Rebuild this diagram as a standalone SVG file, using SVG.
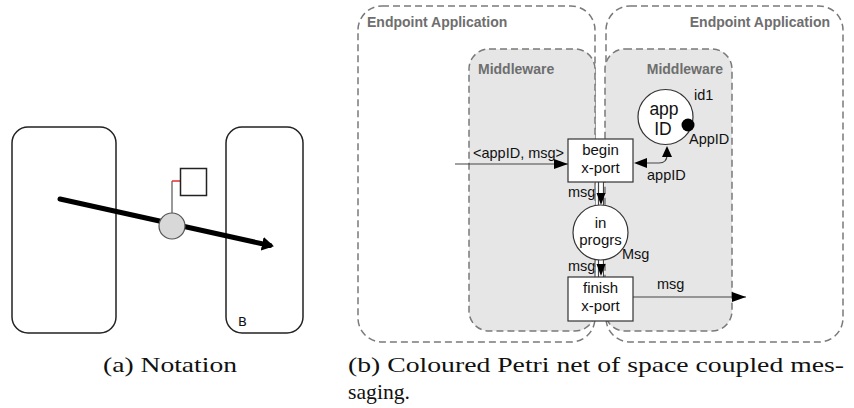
<svg xmlns="http://www.w3.org/2000/svg" width="854" height="408" viewBox="0 0 854 408">
  <style>
    .bnd { fill: none; stroke: #7a7a7a; stroke-width: 1.5; stroke-dasharray: 7 4; }
    .mw { fill: #e6e6e6; stroke: #7a7a7a; stroke-width: 1.5; stroke-dasharray: 7 4; }
    .lbl { font-family: "Liberation Sans", Arial, sans-serif; font-weight: bold; font-size: 14px; fill: #6e6e6e; }
    .t { font-family: "Liberation Sans", Arial, sans-serif; font-size: 15px; fill: #111; }
    .big { font-size: 17.5px; }
    .s { font-family: "Liberation Sans", Arial, sans-serif; font-size: 14.5px; fill: #111; }
    .node { fill: #fff; stroke: #333; stroke-width: 1.2; }
    .arc { fill: none; stroke: #444; stroke-width: 1.2; }
    .cap { font-family: "Liberation Serif", "Times New Roman", serif; font-size: 21px; fill: #111; }
    .zone { fill: #fff; stroke: #222; stroke-width: 1.5; }
  </style>
  <defs>
    <marker id="arr" viewBox="0 0 14 10" refX="14" refY="5" markerWidth="14" markerHeight="10" markerUnits="userSpaceOnUse" orient="auto">
      <path d="M0,0 L14,5 L0,10 z" fill="#000"/>
    </marker>
    <marker id="thick" viewBox="0 0 12 14" refX="8" refY="7" markerWidth="12" markerHeight="14" markerUnits="userSpaceOnUse" orient="auto">
      <path d="M0,0 L12,7 L0,14 z" fill="#000"/>
    </marker>
  </defs>

  <!-- (a) notation -->
  <g id="notation">
    <rect class="zone" x="12" y="127" width="104" height="206" rx="16"/>
    <rect class="zone" x="226" y="127" width="77" height="206" rx="16"/>
    <text x="238" y="326" font-family="'DejaVu Sans', sans-serif" font-size="13" fill="#111">B</text>
    <line x1="60" y1="199" x2="270" y2="245.5" stroke="#000" stroke-width="5" stroke-linecap="round" marker-end="url(#thick)"/>
    <polyline points="172,213 172,181" fill="none" stroke="#555" stroke-width="1.2"/>
    <line x1="172" y1="181" x2="180" y2="181" stroke="#e03030" stroke-width="1.5"/>
    <rect x="180.5" y="168.5" width="26" height="27" fill="#fff" stroke="#222" stroke-width="1.5"/>
    <circle cx="172" cy="226" r="13" fill="#d8d8d8" stroke="#555" stroke-width="1.2"/>
  </g>

  <!-- (b) coloured Petri net -->
  <g id="endpoint-left">
    <rect class="bnd" x="358" y="6" width="237" height="336" rx="24"/>
    <text class="lbl" x="367" y="27">Endpoint Application</text>
  </g>
  <g id="endpoint-right">
    <rect class="bnd" x="606" y="6" width="237" height="336" rx="24"/>
    <text class="lbl" x="830" y="27" text-anchor="end">Endpoint Application</text>
  </g>
  <g id="middleware-left">
    <rect class="mw" x="469" y="49" width="126" height="282" rx="20"/>
    <text class="lbl" x="478" y="74">Middleware</text>
  </g>
  <g id="middleware-right">
    <rect class="mw" x="605" y="49" width="127" height="282" rx="20"/>
    <text class="lbl" x="723" y="74" text-anchor="end">Middleware</text>
  </g>

  <g id="connectors">
    <line class="arc" x1="455" y1="164" x2="568" y2="164" marker-end="url(#arr)"/>
    <text class="s" x="473" y="158">&lt;appID, msg&gt;</text>
    <path class="arc" d="M646,163 L659,163 Q667,163 667,155 L667,157" />
    <path d="M634,163 L647,158 L647,168 z" fill="#000"/>
    <path d="M667,146 L662,157 L672,157 z" fill="#000"/>
    <text class="s" x="647" y="180">appID</text>
    <line class="arc" x1="598.5" y1="182" x2="598.5" y2="205"/>
    <line class="arc" x1="603.5" y1="182" x2="603.5" y2="205"/>
    <path d="M596.5,193 L605.5,193 L601,205 z" fill="#000"/>
    <text class="s" x="568" y="197">msg</text>
    <line class="arc" x1="598.5" y1="260" x2="598.5" y2="277"/>
    <line class="arc" x1="603.5" y1="260" x2="603.5" y2="277"/>
    <path d="M596.5,264 L605.5,264 L601,276 z" fill="#000"/>
    <text class="s" x="568" y="271">msg</text>
    <line class="arc" x1="633" y1="297" x2="746" y2="297" marker-end="url(#arr)"/>
    <text class="s" x="657" y="289">msg</text>
  </g>

  <g id="begin-xport">
    <rect class="node" x="568" y="139" width="65" height="43"/>
    <text class="t" x="600.5" y="155" text-anchor="middle">begin</text>
    <text class="t" x="600.5" y="173" text-anchor="middle">x-port</text>
  </g>
  <g id="app-id">
    <circle class="node" cx="665.5" cy="117" r="27.5"/>
    <text class="t big" x="664" y="115" text-anchor="middle">app</text>
    <text class="t big" x="663" y="135" text-anchor="middle">ID</text>
    <circle cx="688" cy="125" r="6.5" fill="#000"/>
    <text class="s" x="694" y="100">id1</text>
    <text class="s" x="689" y="144">AppID</text>
  </g>
  <g id="in-progrs">
    <circle class="node" cx="600.5" cy="232.5" r="27.5"/>
    <text class="t" x="600.5" y="228" text-anchor="middle">in</text>
    <text class="t" x="600.5" y="245" text-anchor="middle">progrs</text>
    <text class="s" x="622" y="259">Msg</text>
  </g>
  <g id="finish-xport">
    <rect class="node" x="568" y="277" width="65" height="44"/>
    <text class="t" x="600.5" y="293" text-anchor="middle">finish</text>
    <text class="t" x="600.5" y="311" text-anchor="middle">x-port</text>
  </g>

  <!-- captions -->
  <text class="cap" x="103" y="372" textLength="134" lengthAdjust="spacingAndGlyphs">(a) Notation</text>
  <text class="cap" x="348" y="372" textLength="496" lengthAdjust="spacingAndGlyphs">(b) Coloured Petri net of space coupled mes-</text>
  <text class="cap" x="348" y="399" textLength="62" lengthAdjust="spacingAndGlyphs">saging.</text>
</svg>
